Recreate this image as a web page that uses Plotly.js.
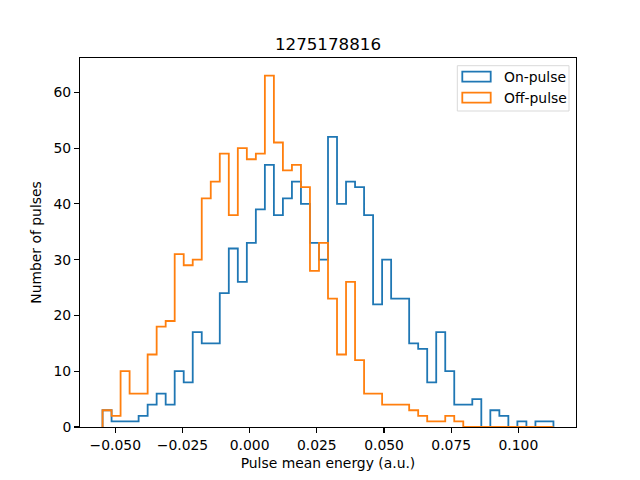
<!DOCTYPE html>
<html>
<head>
<meta charset="utf-8">
<script src="https://cdn.plot.ly/plotly-3.0.1.min.js"></script>
<style>html,body{margin:0;padding:0;background:#fff;}#chart{width:640px;height:480px;}</style>
</head>
<body>
<div id="chart"></div>
<script>
// Shared histogram binning (50 equal bins)
const binLow = -0.05474;
const binHigh = 0.11305;
const nBins = 50;

const onPulseCounts = [3,1,1,1,2,4,6,4,10,8,17,15,15,24,32,26,33,39,47,38,41,44,40,33,30,52,40,44,43,38,22,30,23,23,15,14,8,17,10,4,4,5,0,3,2,0,1,0,1,1];
const offPulseCounts = [3,2,10,6,6,13,18,19,31,29,30,41,44,49,38,50,48,49,63,51,46,47,43,28,33,23,13,26,12,6,6,4,4,4,3,2,1,1,2,1,0,0,0,0,0,0,0,0,0,0];

const xTickVals = [-0.05,-0.025,0,0.025,0.05,0.075,0.1];
const xTickText = ["\u22120.050","\u22120.025","0.000","0.025","0.050","0.075","0.100"];
const yTickVals = [0,10,20,30,40,50,60];

const seriesNames = ["On-pulse","Off-pulse"];
const seriesColors = ["#1f77b4","#ff7f0e"];

function stepPath(counts){
  const w = (binHigh - binLow) / counts.length;
  const xs = [binLow], ys = [0];
  for (let i = 0; i < counts.length; i++) {
    const a = binLow + i*w, b = binLow + (i+1)*w;
    xs.push(a, b); ys.push(counts[i], counts[i]);
  }
  xs.push(binHigh); ys.push(0);
  return {x: xs, y: ys};
}

const allCounts = [onPulseCounts, offPulseCounts];
const traces = allCounts.map((c, k) => {
  const p = stepPath(c);
  return {x: p.x, y: p.y, type: 'scatter', mode: 'lines', name: seriesNames[k],
          line: {color: seriesColors[k], width: 1.8}, hoverinfo: 'x+y', showlegend: false};
});

const span = binHigh - binLow;
const ymax = Math.max(...onPulseCounts, ...offPulseCounts) * 1.05;

const font = {family: 'DejaVu Sans, sans-serif', size: 13.9, color: '#000'};

// legend drawn in paper coordinates
const plotL = 80, plotR = 576, plotT = 57.6, plotB = 427.2;
const px = v => (v - plotL) / (plotR - plotL);
const py = v => (plotB - v) / (plotB - plotT);

const shapes = [
  {type:'rect', xref:'paper', yref:'paper', x0:px(457.3), x1:px(569), y0:py(110.7), y1:py(65.3),
   line:{color:'#d9d9d9', width:1}, fillcolor:'rgba(255,255,255,0.8)', layer:'above'},
  {type:'rect', xref:'paper', yref:'paper', x0:px(462.3), x1:px(490.7), y0:py(81.3), y1:py(71.3),
   line:{color:seriesColors[0], width:1.8}, fillcolor:'rgba(0,0,0,0)', layer:'above'},
  {type:'rect', xref:'paper', yref:'paper', x0:px(462.3), x1:px(490.7), y0:py(102.3), y1:py(92.3),
   line:{color:seriesColors[1], width:1.8}, fillcolor:'rgba(0,0,0,0)', layer:'above'}
];
const annotations = [
  {xref:'paper', yref:'paper', x:px(502), y:py(76.3), text:seriesNames[0], showarrow:false,
   xanchor:'left', yanchor:'middle', font:font},
  {xref:'paper', yref:'paper', x:px(502), y:py(97.3), text:seriesNames[1], showarrow:false,
   xanchor:'left', yanchor:'middle', font:font}
];

const layout = {
  width: 640, height: 480,
  margin: {l: 80, r: 64, t: 57.6, b: 52.8, pad: 0},
  paper_bgcolor: '#fff', plot_bgcolor: '#fff',
  font: font,
  showlegend: false,
  title: {text: '1275178816', font: {family: 'DejaVu Sans, sans-serif', size: 16.7, color: '#000'},
          x: 0.5125, xanchor: 'center', y: 1 - 44/480, yanchor: 'middle'},
  xaxis: {
    range: [binLow - 0.05*span, binHigh + 0.05*span],
    tickvals: xTickVals, ticktext: xTickText,
    ticks: 'outside', ticklen: 4.9, tickwidth: 1.1, tickcolor: '#000',
    showline: true, mirror: true, linecolor: '#000', linewidth: 1.1,
    showgrid: false, zeroline: false,
    title: {text: 'Pulse mean energy (a.u.)', font: font, standoff: 6},
    tickfont: font
  },
  yaxis: {
    range: [0, ymax],
    tickvals: yTickVals,
    ticks: 'outside', ticklen: 4.9, tickwidth: 1.1, tickcolor: '#000',
    showline: true, mirror: true, linecolor: '#000', linewidth: 1.1,
    showgrid: false, zeroline: false,
    title: {text: 'Number of pulses', font: font, standoff: 8},
    tickfont: font
  },
  shapes: shapes,
  annotations: annotations
};

Plotly.newPlot('chart', traces, layout, {displayModeBar: false, staticPlot: true});
</script>
</body>
</html>
